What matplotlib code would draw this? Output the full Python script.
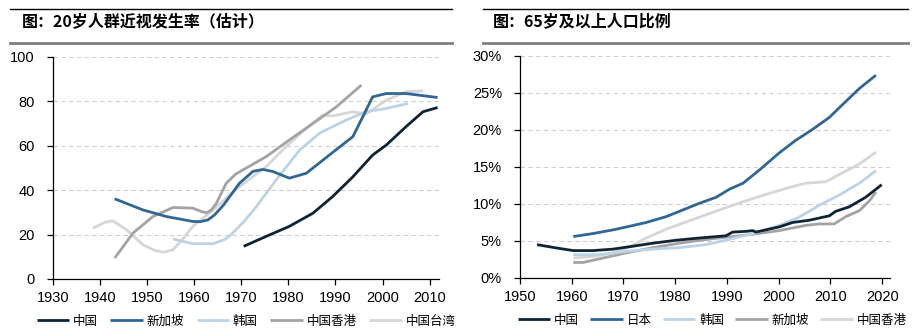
import matplotlib.pyplot as plt
from matplotlib.lines import Line2D
from matplotlib.ticker import PercentFormatter

plt.rcParams['font.family'] = ['Liberation Sans', 'Noto Sans CJK SC', 'DejaVu Sans']

# 左图：20岁人群近视发生率（估计）
cn_x = [1970.5, 1975.3, 1980.2, 1985.2, 1989.4, 1993.7, 1997.9, 2000.8, 2005, 2008.6, 2011.7]
cn_y = [14.7, 19.2, 23.7, 29.6, 37.1, 46, 55.8, 60.3, 68.6, 75.3, 77.2]
sg_x = [1943.1, 1949.1, 1954.1, 1959.7, 1961.3, 1962.9, 1964.3, 1966.3, 1969.6, 1972.5, 1974.6,
        1976.7, 1980.2, 1983.8, 1988.7, 1993.7, 1995.8, 1997.9, 2000.8, 2005, 2011.7]
sg_y = [36.1, 31.1, 28.1, 25.9, 25.8, 26.6, 28.8, 33.5, 43.1, 48.5, 49.3,
        48.4, 45.4, 47.6, 55.8, 64.1, 73, 82, 83.5, 83.5, 81.7]
kr_x = [1955.5, 1959.7, 1964, 1966.5, 1968.2, 1970.7, 1973.2, 1977.4, 1982.4, 1986.6, 1992.3,
        1996.5, 2000.8, 2005.4]
kr_y = [18, 15.9, 15.9, 17.8, 20.7, 26.2, 32.6, 44.6, 58.1, 65.6, 71.6, 75.3, 76.8, 79]
hk_x = [1943.1, 1947, 1951.2, 1955.5, 1959.7, 1961.5, 1962.6, 1963.6, 1964.7, 1966.8, 1968.8,
        1971, 1975.3, 1980.2, 1985.2, 1990.2, 1995.5]
hk_y = [9.4, 20.7, 28.1, 32.2, 31.9, 30.4, 29.8, 31.0, 34.1, 43.1, 47.2,
        49.9, 55.1, 62.6, 70, 77.5, 87.3]
tw_x = [1938.5, 1941, 1942.7, 1945.6, 1949.1, 1951.5, 1953.4, 1955.5, 1957.5, 1959.7, 1964,
        1969.6, 1975.3, 1979.5, 1983.8, 1987.3, 1989.4, 1993.7, 1996.5, 2000.8, 2005, 2008.6]
tw_y = [22.9, 25.5, 26.2, 22.2, 15.4, 13.0, 12, 13.2, 17.8, 23.7, 31.1,
        41.6, 50.6, 59.6, 67.8, 73.8, 73.4, 75.3, 74.3, 80.5, 84.3, 84.7]

# 右图：65岁及以上人口比例 (%)
cn2_x = [1953.3, 1957.1, 1960.3, 1964.1, 1968, 1971.9, 1975.7, 1980.2, 1984.7, 1989.8, 1991.1,
         1993.7, 1995, 1995.6, 2000.1, 2002.7, 2005.9, 2009.8, 2011, 2013.6, 2016.8, 2019.9]
cn2_y = [4.5, 4.05, 3.7, 3.7, 3.9, 4.3, 4.7, 5.1, 5.4, 5.7, 6.2,
         6.3, 6.4, 6.2, 6.9, 7.5, 7.8, 8.4, 9.0, 9.6, 10.9, 12.6]
jp_x = [1960.3, 1964.1, 1968, 1970.6, 1974.4, 1978.3, 1980.8, 1984.7, 1987.9, 1990.5, 1993.1,
        1996.3, 2000.1, 2003.3, 2006.6, 2009.8, 2012.9, 2015.6, 2018.8]
jp_y = [5.6, 6.0, 6.5, 6.9, 7.5, 8.3, 9.0, 10.1, 10.9, 12.0, 12.8,
        14.6, 16.9, 18.6, 20.1, 21.7, 23.8, 25.6, 27.4]
kr2_x = [1960.3, 1965.4, 1970.6, 1975.7, 1980.8, 1985.9, 1989.8, 1995, 2000.1, 2003.9, 2007.8,
         2011.7, 2015.6, 2018.8]
kr2_y = [3.15, 3.15, 3.6, 3.9, 4.1, 4.5, 5.1, 6.0, 7.1, 8.2, 9.8, 11.2, 12.8, 14.5]
sg2_x = [1960.3, 1962.2, 1966.7, 1970.6, 1975.7, 1980.8, 1985.9, 1989.8, 1995, 2000.1, 2005.2,
         2007.8, 2010.7, 2013, 2015.6, 2017.5, 2018.8]
sg2_y = [2.1, 2.1, 2.8, 3.4, 4.1, 4.7, 5.2, 5.5, 5.9, 6.4, 7.1, 7.3, 7.3, 8.3, 9.1, 10.4, 11.6]
hk2_x = [1960.3, 1964.1, 1968, 1970.6, 1974.4, 1978.3, 1983.4, 1988.6, 1993.1, 1997.6, 2001.4,
         2005.2, 2009.1, 2012.3, 2015.6, 2018.8]
hk2_y = [2.7, 2.9, 3.4, 4.0, 5.4, 6.6, 7.9, 9.2, 10.3, 11.3, 12.1, 12.8, 13.0, 14.2, 15.4, 17.0]

c_navy = '#0E2435'
c_blue = '#2F6797'
c_lblue = '#BCD3E6'
c_gray = '#A3A3A3'
c_lgray = '#D6D6D6'

fig = plt.figure(figsize=(9.19, 3.34), dpi=100)
ax1 = fig.add_axes([0.0577, 0.1647, 0.42, 0.665])
ax2 = fig.add_axes([0.5658, 0.1677, 0.4026, 0.665])

st = dict(lw=2.0, solid_joinstyle='round', solid_capstyle='butt')
ax1.plot(cn_x, cn_y, color=c_navy, label='中国', zorder=6, **st)
ax1.plot(sg_x, sg_y, color=c_blue, label='新加坡', zorder=5, **st)
ax1.plot(kr_x, kr_y, color=c_lblue, label='韩国', zorder=4, **st)
ax1.plot(hk_x, hk_y, color=c_gray, label='中国香港', zorder=3, **st)
ax1.plot(tw_x, tw_y, color=c_lgray, label='中国台湾', zorder=2, **st)

ax2.plot(cn2_x, cn2_y, color=c_navy, label='中国', zorder=6, **st)
ax2.plot(jp_x, jp_y, color=c_blue, label='日本', zorder=5, **st)
ax2.plot(kr2_x, kr2_y, color=c_lblue, label='韩国', zorder=4, **st)
ax2.plot(sg2_x, sg2_y, color=c_gray, label='新加坡', zorder=3, **st)
ax2.plot(hk2_x, hk2_y, color=c_lgray, label='中国香港', zorder=2, **st)

ax1.set_xlim(1930, 2012)
ax1.set_ylim(0, 100)
ax1.set_xticks(range(1930, 2011, 10))
ax1.set_yticks(range(0, 101, 20))

ax2.set_xlim(1950, 2021.5)
ax2.set_ylim(0, 30)
ax2.set_xticks(range(1950, 2021, 10))
ax2.set_yticks(range(0, 31, 5))
ax2.yaxis.set_major_formatter(PercentFormatter(decimals=0))

for ax in (ax1, ax2):
    for s in ('top', 'right'):
        ax.spines[s].set_visible(False)
    ax.spines['left'].set_linewidth(0.9)
    ax.spines['bottom'].set_linewidth(0.9)
    ax.grid(axis='y', linestyle=(0, (4, 3)), color='#CFCFCF', linewidth=0.8)
    ax.set_axisbelow(True)
    ax.tick_params(axis='x', direction='out', length=4, width=0.9, pad=5, labelsize=10.5)
    ax.tick_params(axis='y', direction='out', length=4, width=0.9, pad=9, labelsize=10.5)

ax1.legend(loc='upper center', bbox_to_anchor=(0.5, -0.11), ncol=5, frameon=False,
           handlelength=2.6, handletextpad=0.3, columnspacing=1.0,
           prop={'family': 'Noto Sans CJK SC', 'size': 9})
ax2.legend(loc='upper center', bbox_to_anchor=(0.52, -0.11), ncol=5, frameon=False,
           handlelength=2.6, handletextpad=0.3, columnspacing=0.9,
           prop={'family': 'Noto Sans CJK SC', 'size': 9})

# 标题与装饰线
for x0, x1, tx, title in [(10, 452, 22, '图：20岁人群近视发生率（估计）'),
                          (483, 908, 493, '图：65岁及以上人口比例')]:
    fig.add_artist(Line2D([x0 / 919, x1 / 919], [1 - 9 / 334, 1 - 9 / 334],
                          color='black', lw=1.0))
    fig.add_artist(Line2D([x0 / 919, x1 / 919], [1 - 43 / 334, 1 - 43 / 334],
                          color='#7F7F7F', lw=2.0))
    fig.text(tx / 919, 1 - 21 / 334, title, ha='left', va='center', fontsize=11.5,
             fontweight='bold', family=['Noto Sans CJK SC', 'DejaVu Sans'])

fig.savefig('out.png', dpi=100)
